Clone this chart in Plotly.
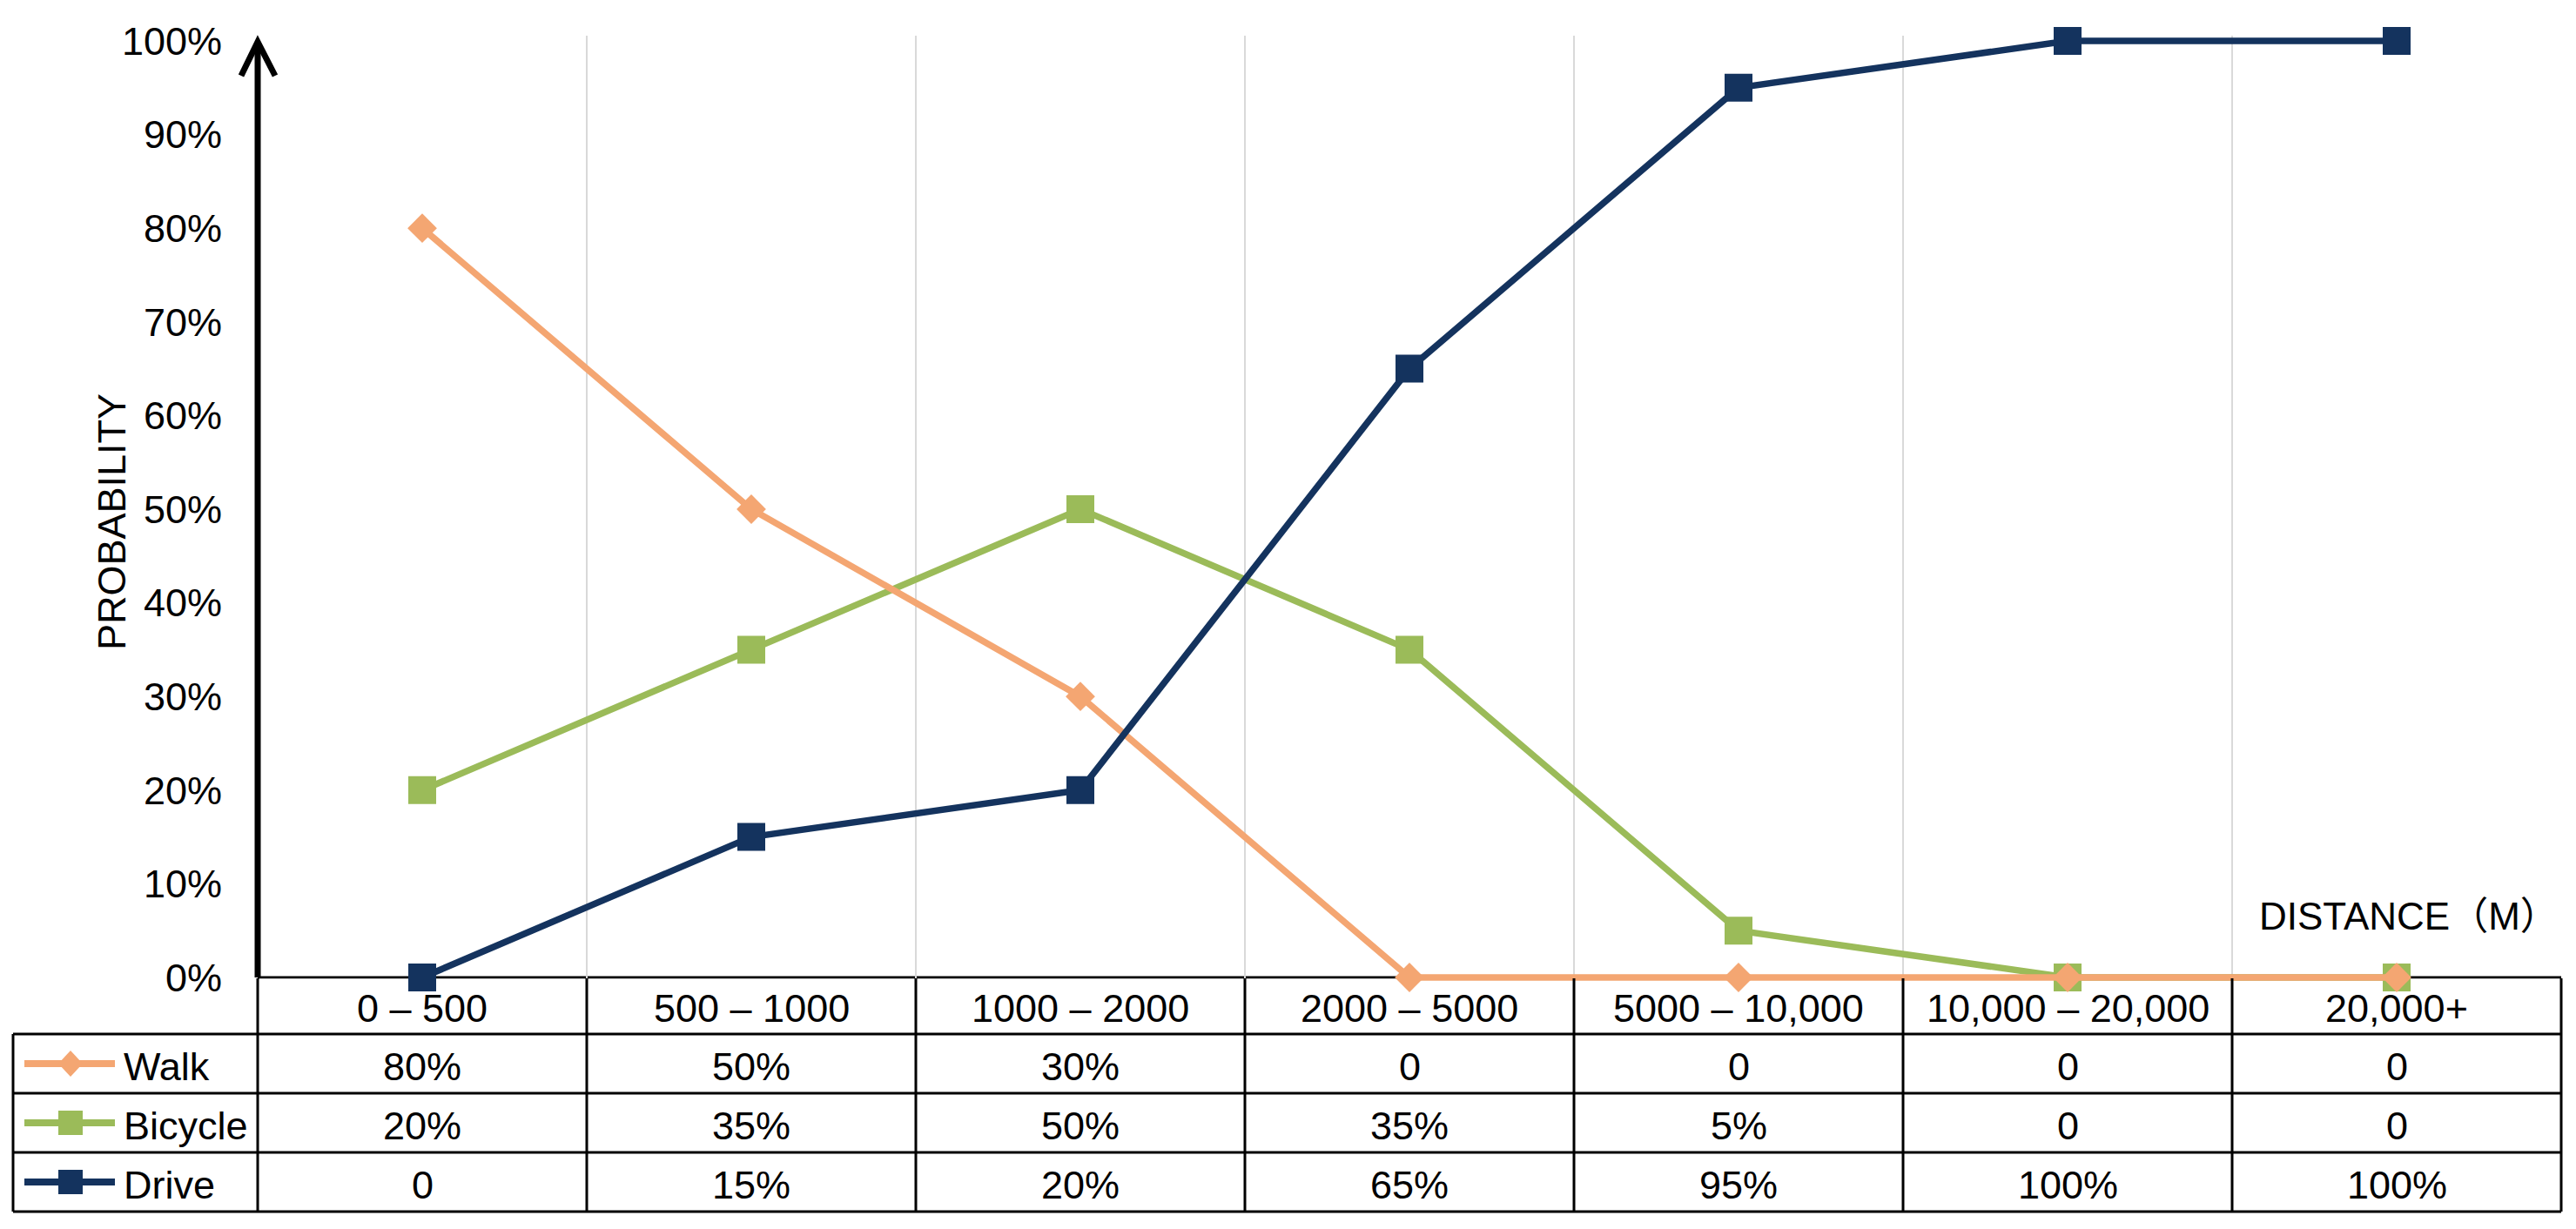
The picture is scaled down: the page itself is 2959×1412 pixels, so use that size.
import plotly.graph_objects as go

# ---------------- data ----------------
categories = ["0 – 500", "500 – 1000", "1000 – 2000", "2000 – 5000",
              "5000 – 10,000", "10,000 – 20,000", "20,000+"]
series_names = ["Walk", "Bicycle", "Drive"]
walk = [80, 50, 30, 0, 0, 0, 0]
bicycle = [20, 35, 50, 35, 5, 0, 0]
drive = [0, 15, 20, 65, 95, 100, 100]
y_ticks = [0, 10, 20, 30, 40, 50, 60, 70, 80, 90, 100]
y_ticktext = [f"{v}%" for v in y_ticks]
y_title = "PROBABILITY"
x_title = "DISTANCE（M）"

# ---------------- styles ----------------
PAGE_W, PAGE_H = 2959, 1412
OFF = 8  # default body margin of the html page
W, H = PAGE_W - 2 * OFF, PAGE_H - 2 * OFF
FONT = "Liberation Sans, Arial, Noto Sans CJK SC, sans-serif"
FS = 45
styles = {
    "Walk": dict(color="#F4A672", symbol="diamond", size=26),
    "Bicycle": dict(color="#9BBB59", symbol="square", size=32),
    "Drive": dict(color="#14335E", symbol="square", size=32),
}
values = {"Walk": walk, "Bicycle": bicycle, "Drive": drive}


def px(x):
    return (x - OFF) / W


def py(y):
    return 1 - (y - OFF) / H


# plot area in page pixels
X0, X1 = 296, 2942
Y_TOP, Y_BOT = 47, 1123
PAD = 0.6  # small padding (data units) so lines at 0/100 are not clipped
unit = (Y_BOT - Y_TOP) / 100.0
# table rows (page pixels)
HEAD_BOT = 1188
ROW_H = 68
TABLE_LEFT = 15
TXT_DY = 3

fig = go.Figure()

for name in ["Bicycle", "Walk", "Drive"]:
    st = styles[name]
    fig.add_trace(go.Scatter(
        x=categories, y=values[name], name=name, mode="lines+markers",
        line=dict(color=st["color"], width=7.5),
        marker=dict(symbol=st["symbol"], size=st["size"], color=st["color"],
                    line=dict(width=0)),
        cliponaxis=False, showlegend=False,
    ))

shapes = []
annotations = []

# x axis line / top of table (below traces)
shapes.append(dict(type="line", xref="paper", yref="paper", layer="below",
                   x0=px(X0), x1=px(X1), y0=py(Y_BOT), y1=py(Y_BOT),
                   line=dict(color="black", width=3)))

# y axis thick line with open arrow head
shapes.append(dict(type="line", xref="paper", yref="paper",
                   x0=px(X0), x1=px(X0), y0=py(Y_BOT), y1=py(52),
                   line=dict(color="black", width=7)))
shapes.append(dict(type="path", xref="paper", yref="paper",
                   path=f"M {px(277)} {py(87)} L {px(X0)} {py(48)} L {px(316)} {py(87)}",
                   line=dict(color="black", width=7)))

n = len(categories)
cw = (X1 - X0) / n
row_tops = [HEAD_BOT + i * ROW_H for i in range(len(series_names))]
TABLE_BOT = HEAD_BOT + len(series_names) * ROW_H

# horizontal table lines
for i in range(len(series_names) + 1):
    yy = HEAD_BOT + i * ROW_H
    shapes.append(dict(type="line", xref="paper", yref="paper",
                       x0=px(TABLE_LEFT), x1=px(X1), y0=py(yy), y1=py(yy),
                       line=dict(color="black", width=3)))
# vertical table lines
shapes.append(dict(type="line", xref="paper", yref="paper",
                   x0=px(TABLE_LEFT), x1=px(TABLE_LEFT), y0=py(HEAD_BOT), y1=py(TABLE_BOT),
                   line=dict(color="black", width=3)))
for k in range(n + 1):
    xx = X0 + k * cw
    shapes.append(dict(type="line", xref="paper", yref="paper",
                       x0=px(xx), x1=px(xx), y0=py(Y_BOT + 1), y1=py(TABLE_BOT),
                       line=dict(color="black", width=3)))
# cover gridline overshoot below the axis with white
shapes.append(dict(type="rect", xref="paper", yref="paper", layer="below",
                   x0=px(X0 + 2), x1=px(X1 + 3), y0=py(Y_BOT + 12), y1=py(Y_BOT + 1.5),
                   fillcolor="white", line=dict(width=0)))

# header labels
for c in categories:
    annotations.append(dict(x=c, xref="x", y=py((Y_BOT + HEAD_BOT) / 2 + TXT_DY), yref="paper",
                            text=c, showarrow=False, xanchor="center", yanchor="middle",
                            font=dict(family=FONT, size=FS, color="black")))


def fmt(v):
    return "0" if v == 0 else f"{v}%"


for i, name in enumerate(series_names):
    rc = row_tops[i] + ROW_H / 2
    st = styles[name]
    # legend key
    shapes.append(dict(type="line", xref="paper", yref="paper",
                       x0=px(28), x1=px(132), y0=py(rc), y1=py(rc),
                       line=dict(color=st["color"], width=8)))
    if st["symbol"] == "diamond":
        shapes.append(dict(type="path", xref="paper", yref="paper",
                           path=(f"M {px(81)} {py(rc - 15)} L {px(95)} {py(rc)} "
                                 f"L {px(81)} {py(rc + 15)} L {px(67)} {py(rc)} Z"),
                           fillcolor=st["color"], line=dict(width=0)))
    else:
        shapes.append(dict(type="rect", xref="paper", yref="paper",
                           x0=px(67), x1=px(95), y0=py(rc + 14), y1=py(rc - 14),
                           fillcolor=st["color"], line=dict(width=0)))
    annotations.append(dict(x=px(140), xref="paper", y=py(rc + TXT_DY), yref="paper",
                            text=name, showarrow=False, xanchor="left", yanchor="middle",
                            font=dict(family=FONT, size=FS, color="black")))
    for c, v in zip(categories, values[name]):
        annotations.append(dict(x=c, xref="x", y=py(rc + TXT_DY), yref="paper",
                                text=fmt(v), showarrow=False, xanchor="center",
                                yanchor="middle",
                                font=dict(family=FONT, size=FS, color="black")))

# axis titles
annotations.append(dict(x=px(128), xref="paper", y=py(600), yref="paper",
                        text=y_title, textangle=-90, showarrow=False,
                        xanchor="center", yanchor="middle",
                        font=dict(family=FONT, size=FS, color="black")))
annotations.append(dict(x=px(2593), xref="paper", y=py(1052), yref="paper",
                        text=x_title, showarrow=False,
                        xanchor="left", yanchor="middle",
                        font=dict(family=FONT, size=44, color="black")))

fig.update_layout(
    width=W, height=H,
    margin=dict(l=0, r=0, t=0, b=0, autoexpand=False),
    paper_bgcolor="white", plot_bgcolor="rgba(0,0,0,0)",
    xaxis=dict(domain=[px(X0), px(X1)], type="category", range=[-0.5, n - 0.5],
               tickson="boundaries", showgrid=True, gridcolor="#D9D9D9", gridwidth=2,
               showticklabels=False, ticks="", showline=False, zeroline=False,
               automargin=False),
    yaxis=dict(domain=[py(Y_BOT + PAD * unit), py(Y_TOP - PAD * unit)],
               range=[-PAD, 100 + PAD], tickvals=y_ticks, ticktext=y_ticktext,
               showgrid=False, zeroline=False, showline=False,
               ticks="", ticklabelstandoff=40, automargin=False,
               tickfont=dict(family=FONT, size=FS, color="black")),
    shapes=shapes, annotations=annotations,
    showlegend=False,
)

fig.write_html("out.html")
